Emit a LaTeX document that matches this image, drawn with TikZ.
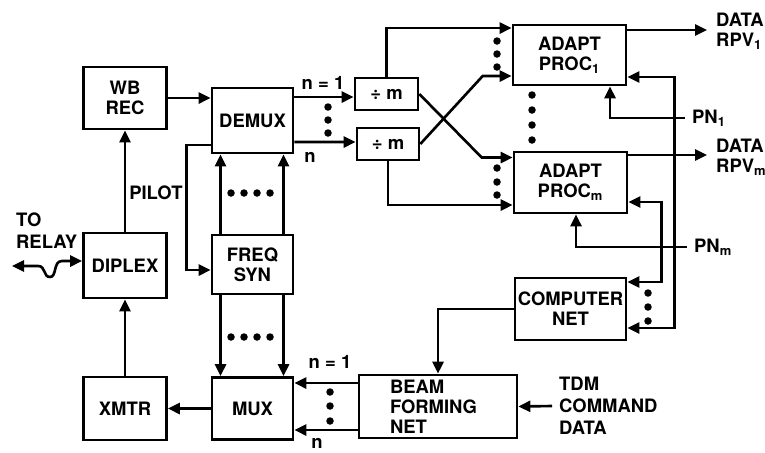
\documentclass[tikz,border=0pt]{standalone}
\usepackage{fontspec}
\setmainfont{TeX Gyre Heros}
\usetikzlibrary{arrows.meta, calc}

\begin{document}
\begin{tikzpicture}[x=0.2mm, y=-0.2mm, >={Triangle[length=2.4mm, width=2.2mm]}, line width=1.5pt,
  every node/.style={font=\fontsize{10.5}{11.5}\selectfont\bfseries},
  blk/.style={draw, line width=1.5pt, align=center, inner sep=0pt},
  lbl/.style={anchor=west, align=left}]
  \useasboundingbox (0,0) rectangle (765,452);
  \node[blk, minimum width=1.66cm, minimum height=1.24cm] (wbrec) at (125,98) {WB\\REC};
  \node[blk, minimum width=1.62cm, minimum height=1.3cm] (demux) at (252.5,120.5) {DEMUX};
  \node[blk, minimum width=1.66cm, minimum height=1.3cm] (diplex) at (125,265.5) {DIPLEX};
  \node[blk, minimum width=1.62cm, minimum height=1.18cm] (freqsyn) at (252.5,264.5) {FREQ\\SYN};
  \node[blk, minimum width=1.66cm, minimum height=1.26cm] (xmtr) at (125,408.5) {XMTR};
  \node[blk, minimum width=1.62cm, minimum height=1.24cm] (mux) at (252.5,408.5) {MUX};
  \node[blk, minimum width=3.16cm, minimum height=1.26cm, text width=1.92cm, align=left] (beam) at (438,406.5) {BEAM\\FORMING\\NET};
  \node[blk, minimum width=2.22cm, minimum height=1.24cm] (computer) at (570.5,309) {COMPUTER\\NET};
  \node[blk, minimum width=1.26cm, minimum height=0.64cm] (divtop) at (386.5,94) {÷ m};
  \node[blk, minimum width=1.24cm, minimum height=0.64cm] (divbot) at (388,144) {÷ m};
  \node[blk, minimum width=2.26cm, minimum height=1.2cm] (adapt1) at (569.5,55) {ADAPT\\PROC\textsubscript{1}};
  \node[blk, minimum width=2.26cm, minimum height=1.22cm] (adaptm) at (570.5,182.5) {ADAPT\\PROC\textsubscript{m}};

  \node[lbl] (relay) at (9,231) {TO\\[1pt]RELAY};
  \node (pilot) at (156,193) {PILOT};
  \node (ntop) at (323,83) {n = 1};
  \node (nbot) at (310,157) {n};
  \node[lbl] (rpv1) at (709,31) {DATA\\RPV\textsubscript{1}};
  \node[lbl] (rpvm) at (709,157) {DATA\\RPV\textsubscript{m}};
  \node[lbl] (pn1) at (685,118) {PN\textsubscript{1}};
  \node[lbl] (pnm) at (687,247) {PN\textsubscript{m}};
  \node (nfirst) at (330,362) {n = 1};
  \node (nlast) at (317,443) {n};
  \node[lbl] (tdm) at (552,406) {TDM\\[1pt]COMMAND\\[1pt]DATA};
  \coordinate (relayend) at (12,266);
  \coordinate (out1) at (707,30);
  \coordinate (outm) at (707,155);

  \draw[->] (wbrec.east) -- (wbrec.east -| demux.west);
  \draw[->] (diplex.north) -- (wbrec.south);
  \draw[->] ($(demux.west)+(0,24.5)$) -- ++(-24,0) |- ($(freqsyn.west)+(0,5.5)$);
  \draw[<->] (relayend) -- ++(26,0) .. controls (46,266) and (43,277) .. (50,277) .. controls (57,277) and (53,261) .. (62,261) -- ($(diplex.west)+(0,-4.5)$);
  \foreach \dx in {-32,31} {
    \draw[->] ($(freqsyn.north)+(\dx,0)$) -- ($(demux.south)+(\dx,0)$);
    \draw[->] ($(freqsyn.south)+(\dx,0)$) -- ($(mux.north)+(\dx,0)$);
  }
  \draw[->] (mux.west) -- (xmtr.east);
  \draw[->] (xmtr.north) -- (diplex.south);

  \draw[->] ($(demux.east)+(0,-23.5)$) -- ($(divtop.west)+(0,3)$);
  \draw[->] ($(demux.east)+(0,21.5)$) -- ($(divbot.west)+(0,-2)$);
  \draw[->] (divtop.north) |- ($(adapt1.west)+(0,-27)$);
  \draw[->] (divtop.east) -- ($(adaptm.west)+(-31,-25)$) -- ++(31,0);
  \draw[->] (divbot.east) -- ($(adapt1.west)+(-29,21)$) -- ++(29,0);
  \draw[->] (divbot.south) |- ($(adaptm.west)+(0,22.5)$);

  \draw[->] ($(adapt1.east)+(0,-25)$) -- (out1);
  \draw[->] ($(adaptm.east)+(0,-27.5)$) -- (outm);
  \draw[->] (pn1.west) -| ($(adapt1.south)+(40.5,0)$);
  \draw[->] (pnm.west) -| ($(adaptm.south)+(5.5,0)$);
  \draw[<->] ($(adapt1.east)+(0,22)$) -- ++(47,0) |- ($(computer.east)+(0,19)$);
  \draw[<->] ($(adaptm.east)+(0,19.5)$) -- ++(33,0) |- ($(computer.east)+(0,-27)$);
  \draw[->] (computer.west) -| (beam.north);

  \draw[->] ($(beam.west)+(0,-23.5)$) -- ($(mux.east)+(0,-25.5)$);
  \draw[->] ($(beam.west)+(0,23.5)$) -- ($(mux.east)+(0,21.5)$);
  \draw[->] (tdm.west) -- (beam.east);

  \foreach \x/\y in {231/193, 244/193, 257/193, 270/193, 231/337, 244/337, 257/337, 270/337,
      328/107, 328/120, 328/133, 497/41, 497/54, 497/67, 497/168, 497/182, 497/195,
      532/95, 532/110, 532/125, 532/140, 648/293, 648/307, 648/321, 330/392, 330/406, 330/421}
    \fill (\x,\y) circle[radius=0.75mm];
\end{tikzpicture}
\end{document}
